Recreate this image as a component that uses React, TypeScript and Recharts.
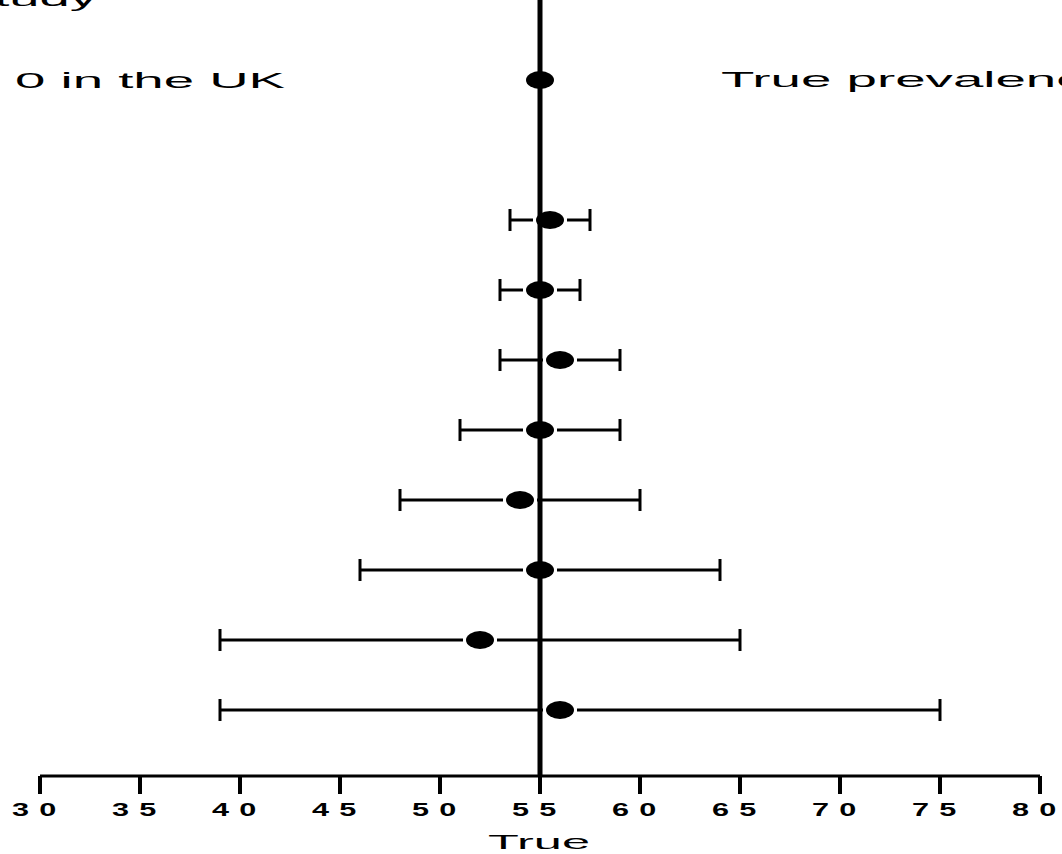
import React from "react";
import {
  ScatterChart,
  Scatter,
  XAxis,
  YAxis,
  ErrorBar,
  ReferenceLine,
} from "recharts";

// rows from top (0 = true prevalence row)
const TRUE_VALUE = 55;
const rowIds = [2, 3, 4, 5, 6, 7, 8, 9];
const estimates = [55.5, 55, 56, 55, 54, 55, 52, 56];
const lowerCI = [53.5, 53, 53, 51, 48, 46, 39, 39];
const upperCI = [57.5, 57, 59, 59, 60, 64, 65, 75];
const xTicks = [30, 35, 40, 45, 50, 55, 60, 65, 70, 75, 80];

const FONT = "'Liberation Sans', Arial, sans-serif";

const studyData = rowIds.map((row, i) => ({
  x: estimates[i],
  y: row,
  err: [estimates[i] - lowerCI[i], upperCI[i] - estimates[i]],
}));
const trueData = [{ x: TRUE_VALUE, y: 0 }];

function Dot(props: any) {
  const { cx, cy } = props;
  return (
    <g>
      <rect x={cx - 17} y={cy - 2.5} width={34} height={5} fill="#fff" />
      <ellipse cx={cx} cy={cy} rx={14} ry={9} fill="#000" />
    </g>
  );
}

function AxisTick(props: any) {
  const { x, y, payload } = props;
  return (
    <text
      transform={`translate(${x - 28},${y + 20}) scale(1.7,1)`}
      textAnchor="start"
      fontFamily={FONT}
      fontSize={18}
      fontWeight="bold"
      fill="#000"
      textLength={26}
      lengthAdjust="spacing"
    >
      {payload.value}
    </text>
  );
}

export default function App() {
  return (
    <div
      style={{
        position: "absolute",
        left: 0,
        top: 0,
        width: 1062,
        height: 854,
        background: "#fff",
        overflow: "hidden",
      }}
    >
      <ScatterChart
        width={1062}
        height={854}
        margin={{ top: 0, right: 22, left: 40, bottom: 0 }}
      >
        <XAxis
          type="number"
          dataKey="x"
          domain={[30, 80]}
          ticks={xTicks}
          interval={0}
          height={78}
          tickSize={18}
          axisLine={{ stroke: "#000", strokeWidth: 3 }}
          tickLine={{ stroke: "#000", strokeWidth: 4 }}
          tick={<AxisTick />}
        />
        <YAxis
          type="number"
          dataKey="y"
          domain={[-8 / 7, 9.943]}
          reversed
          hide
          width={0}
        />
        <ReferenceLine x={TRUE_VALUE} stroke="#000" strokeWidth={5} />
        <Scatter
          data={studyData}
          fill="#000"
          shape={<Dot />}
          isAnimationActive={false}
        >
          <ErrorBar
            dataKey="err"
            direction="x"
            width={11}
            stroke="#000"
            strokeWidth={3}
            isAnimationActive={false}
          />
        </Scatter>
        <Scatter
          data={trueData}
          fill="#000"
          shape={<Dot />}
          isAnimationActive={false}
        />
      </ScatterChart>
      <svg
        width={1062}
        height={854}
        style={{ position: "absolute", left: 0, top: 0, pointerEvents: "none" }}
      >
        <text
          x={-42}
          y={6}
          fontFamily={FONT}
          fontSize={22}
          fill="#000"
          textLength={139}
          lengthAdjust="spacingAndGlyphs"
        >
          Study
        </text>
        <text
          x={15}
          y={88}
          fontFamily={FONT}
          fontSize={22}
          fill="#000"
          textLength={270}
          lengthAdjust="spacingAndGlyphs"
        >
          0 in the UK
        </text>
        <text
          x={721}
          y={87}
          fontFamily={FONT}
          fontSize={22}
          fill="#000"
          textLength={393}
          lengthAdjust="spacingAndGlyphs"
        >
          True prevalence
        </text>
        <text
          x={539}
          y={849}
          textAnchor="middle"
          fontFamily={FONT}
          fontSize={21}
          fill="#000"
          textLength={102}
          lengthAdjust="spacingAndGlyphs"
        >
          True
        </text>
      </svg>
    </div>
  );
}
